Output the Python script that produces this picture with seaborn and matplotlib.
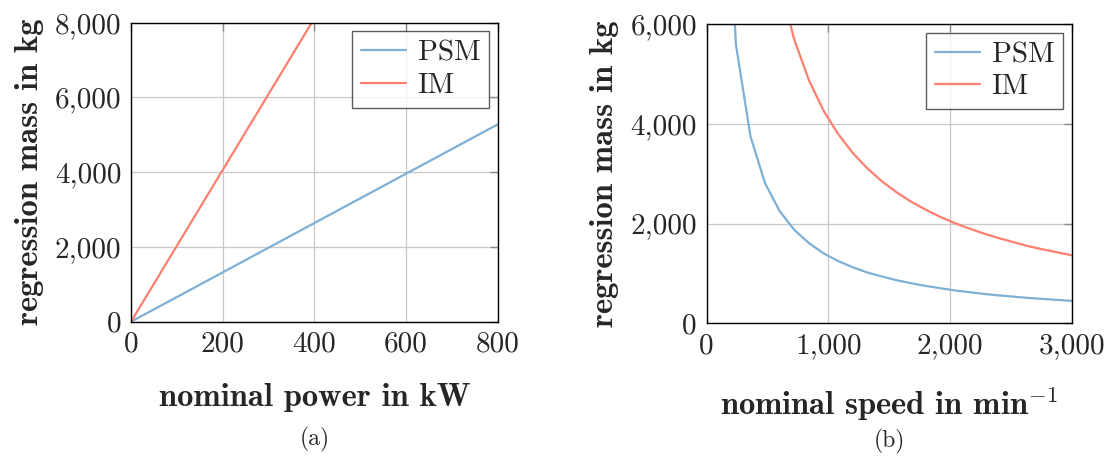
import numpy as np
import pandas as pd
import seaborn as sns
import matplotlib.pyplot as plt
from matplotlib.ticker import FuncFormatter

# (a) regression mass over nominal power
power_kw = [0, 200, 400, 600, 800]
psm_mass_power = [0, 1320, 2640, 3960, 5280]
im_mass_power = [0, 4060, 8120, 12180, 16240]

# (b) regression mass over nominal speed
speed = [120, 240, 360, 480, 600, 720, 840, 960, 1080, 1200, 1320, 1440, 1560,
         1680, 1800, 1920, 2040, 2160, 2280, 2400, 2520, 2640, 2760, 2880, 3000]
psm_mass_speed = [11250, 5600, 3750, 2810, 2250, 1875, 1610, 1405, 1250, 1125, 1020, 940, 865,
                  805, 750, 705, 660, 625, 590, 560, 535, 510, 490, 470, 450]
im_mass_speed = [34170, 17080, 11390, 8540, 6830, 5690, 4880, 4270, 3800, 3420, 3110, 2850, 2630,
                 2440, 2280, 2135, 2010, 1900, 1800, 1710, 1630, 1550, 1485, 1425, 1365]

series = ["PSM", "IM"]
colors = {"PSM": "#7eb0d5", "IM": "#fd7f6f"}

df_a = pd.DataFrame({"x": power_kw * 2,
                     "y": psm_mass_power + im_mass_power,
                     "machine": ["PSM"] * len(power_kw) + ["IM"] * len(power_kw)})
df_b = pd.DataFrame({"x": speed * 2,
                     "y": psm_mass_speed + im_mass_speed,
                     "machine": ["PSM"] * len(speed) + ["IM"] * len(speed)})

sns.set_style("white")
plt.rcParams["font.family"] = ["cmr10", "DejaVu Serif"]
plt.rcParams["mathtext.fontset"] = "cm"
plt.rcParams["axes.formatter.use_mathtext"] = True

fig = plt.figure(figsize=(11.15, 4.59), dpi=100)
ax_a = fig.add_axes([0.1175, 0.2991, 0.3289, 0.6514])
ax_b = fig.add_axes([0.6338, 0.2956, 0.3274, 0.6514])

comma = FuncFormatter(lambda v, p: f"{int(v):,}")
bold = ["cmb10", "DejaVu Serif"]

panels = [
    (ax_a, df_a, (0, 800), (0, 8000), [0, 200, 400, 600, 800], [0, 2000, 4000, 6000, 8000],
     "nominal power in kW", "(a)"),
    (ax_b, df_b, (0, 3000), (0, 6000), [0, 1000, 2000, 3000], [0, 2000, 4000, 6000],
     "nominal speed in min$^{-1}$", "(b)"),
]

for ax, df, xlim, ylim, xt, yt, xlabel, cap in panels:
    sns.lineplot(data=df, x="x", y="y", hue="machine", hue_order=series, palette=colors,
                 ax=ax, linewidth=1.6, sort=False)
    ax.set_xlim(*xlim)
    ax.set_ylim(*ylim)
    ax.set_xticks(xt)
    ax.set_yticks(yt)
    ax.xaxis.set_major_formatter(comma)
    ax.yaxis.set_major_formatter(comma)
    ax.grid(True, color="#c8c8c8", linewidth=0.9)
    ax.set_axisbelow(True)
    for s in ax.spines.values():
        s.set_color("black")
        s.set_linewidth(1.0)
    ax.tick_params(direction="in", length=6, width=1, color="#888888", labelsize=21,
                   top=True, right=True, pad=7)
    ax.set_xlabel(xlabel, fontsize=23.5, family=bold, labelpad=18)
    ax.set_ylabel("regression mass in kg", fontsize=23.5, family=bold, labelpad=8)
    ax.text(0.5, -0.395, cap, transform=ax.transAxes, ha="center", va="center", fontsize=17)
    leg = ax.legend(loc="upper right", frameon=True, fontsize=21, fancybox=False,
                    handlelength=1.55, borderaxespad=0.3, borderpad=0.3, labelspacing=0.2,
                    handletextpad=0.4)
    leg.get_frame().set_edgecolor("#333333")
    leg.get_frame().set_linewidth(1.0)
    for line in leg.get_lines():
        line.set_linewidth(1.6)

fig.savefig("out.png", dpi=100)
